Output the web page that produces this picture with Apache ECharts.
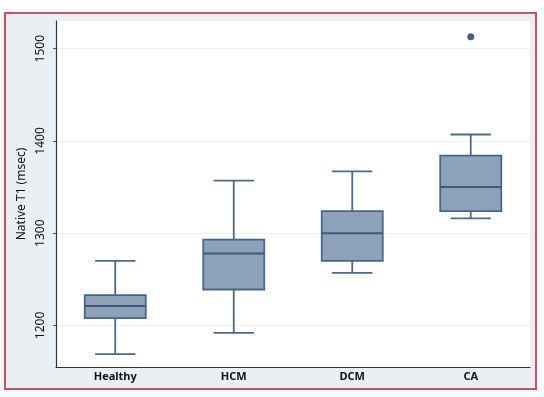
<!DOCTYPE html>
<html>
<head>
<meta charset="utf-8">
<script src="https://cdn.jsdelivr.net/npm/echarts@6/dist/echarts.min.js"></script>
<style>
    html, body { margin: 0; padding: 0; background: #fff; }
    #chart { width: 544px; height: 397px; }
</style>
</head>
<body>
<div id="chart"></div>
<script>
// 各组的箱线图数据（从图上读出来的估计值）
var categories = ['Healthy', 'HCM', 'DCM', 'CA'];
var lowWhisker = [1169, 1192, 1257, 1316];
var q1 = [1208, 1239, 1270, 1324];
var median = [1221, 1278, 1300, 1350];
var q3 = [1233, 1293, 1324, 1384];
var highWhisker = [1270, 1357, 1367, 1407];
var outliers = [['CA', 1513]];
var yTicks = [1200, 1300, 1400, 1500];

var boxData = categories.map(function (c, i) {
    return [i, lowWhisker[i], q1[i], median[i], q3[i], highWhisker[i]];
});

function renderBox(params, api) {
    var x = api.value(0);
    var band = api.size([1, 0])[0];
    var bw = band * 0.515, cw = band * 0.34;
    var lo = api.coord([x, api.value(1)]);
    var p1 = api.coord([x, api.value(2)]);
    var md = api.coord([x, api.value(3)]);
    var p3 = api.coord([x, api.value(4)]);
    var hi = api.coord([x, api.value(5)]);
    var cx = lo[0];
    var stroke = { stroke: '#4e6a89', lineWidth: 1.8 };
    return {
        type: 'group',
        children: [
            { type: 'line', shape: { x1: cx, y1: hi[1], x2: cx, y2: p3[1] }, style: stroke },
            { type: 'line', shape: { x1: cx, y1: p1[1], x2: cx, y2: lo[1] }, style: stroke },
            { type: 'line', shape: { x1: cx - cw / 2, y1: hi[1], x2: cx + cw / 2, y2: hi[1] }, style: stroke },
            { type: 'line', shape: { x1: cx - cw / 2, y1: lo[1], x2: cx + cw / 2, y2: lo[1] }, style: stroke },
            {
                type: 'rect',
                shape: { x: cx - bw / 2, y: p3[1], width: bw, height: p1[1] - p3[1] },
                style: { fill: '#8da2b9', stroke: '#4a6686', lineWidth: 1.8 }
            },
            { type: 'line', shape: { x1: cx - bw / 2, y1: md[1], x2: cx + bw / 2, y2: md[1] }, style: { stroke: '#3e5a7b', lineWidth: 2 } }
        ]
    };
}

var myChart = echarts.init(document.getElementById('chart'));
var option = {
    animation: false,
    backgroundColor: '#fff',
    graphic: [{
        type: 'rect',
        z: -10,
        shape: { x: 5, y: 13, width: 531, height: 376 },
        style: { fill: '#e9eff3', stroke: '#c4506e', lineWidth: 2 }
    }],
    grid: {
        left: 56, right: 14, top: 21, bottom: 30,
        show: true, backgroundColor: '#fff', borderWidth: 0
    },
    xAxis: {
        type: 'category',
        data: categories,
        axisLine: { lineStyle: { color: '#333', width: 1.2 } },
        axisTick: { show: false },
        axisLabel: { color: '#111', fontWeight: 'bold', fontSize: 11, fontFamily: 'Noto Sans', margin: 4 }
    },
    yAxis: {
        type: 'value',
        min: 1155,
        max: 1530,
        splitNumber: 4,
        name: 'Native T1 (msec)',
        nameLocation: 'middle',
        nameGap: 27,
        nameTextStyle: { color: '#111', fontSize: 12, fontFamily: 'Noto Sans' },
        axisLine: { show: true, lineStyle: { color: '#333', width: 1.2 } },
        axisTick: { show: true, length: 3, customValues: yTicks, lineStyle: { color: '#555' } },
        axisLabel: {
            rotate: 90, margin: 9, color: '#111', fontSize: 12, fontFamily: 'Noto Sans',
            customValues: yTicks,
            formatter: function (v) { return String(v); }
        },
        splitLine: { show: true, lineStyle: { color: '#eef1f4', width: 1 } }
    },
    series: [
        {
            type: 'custom',
            renderItem: renderBox,
            encode: { x: 0, y: [1, 2, 3, 4, 5] },
            data: boxData
        },
        {
            type: 'scatter',
            symbolSize: 7,
            itemStyle: { color: '#1c3a60' },
            data: outliers
        }
    ]
};
myChart.setOption(option);
</script>
</body>
</html>
